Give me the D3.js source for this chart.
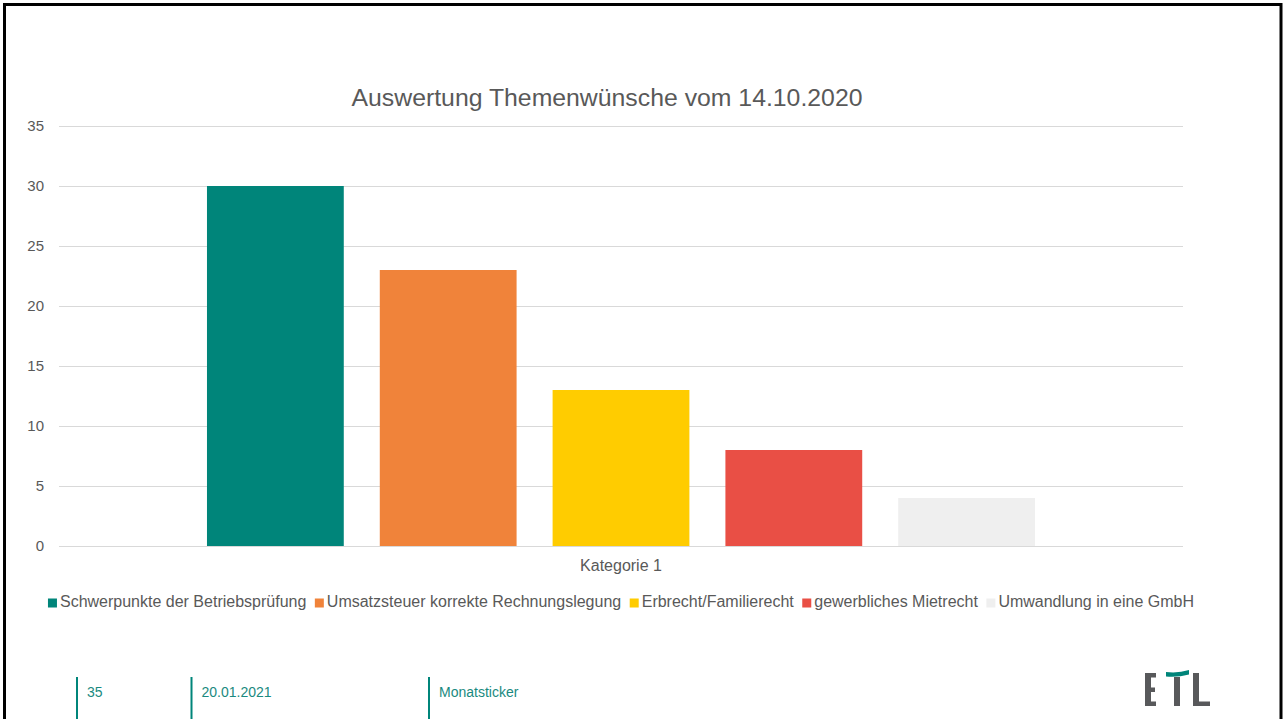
<!DOCTYPE html>
<html>
<head>
<meta charset="utf-8">
<script src="https://cdn.jsdelivr.net/npm/d3@7"></script>
<style>
  html, body { margin: 0; padding: 0; background: #fff; }
  svg { display: block; font-family: "Liberation Sans", Arial, sans-serif; }
</style>
</head>
<body>
<svg id="chart" width="1283" height="719"></svg>
<script>
const chartTitle = "Auswertung Themenwünsche vom 14.10.2020";
const categories = ["Kategorie 1"];
const seriesNames = [
  "Schwerpunkte der Betriebsprüfung",
  "Umsatzsteuer korrekte Rechnungslegung",
  "Erbrecht/Familierecht",
  "gewerbliches Mietrecht",
  "Umwandlung in eine GmbH"
];
const seriesValues = [30, 23, 13, 8, 4];
const seriesColors = ["#00857A", "#F0833A", "#FFCC00", "#E94F45", "#EFEFEF"];
const yTicks = [0, 5, 10, 15, 20, 25, 30, 35];
const footerItems = ["35", "20.01.2021", "Monatsticker"];

const svg = d3.select("#chart");
const textColor = "#595959";
const teal = "#00857A";

// frame
svg.append("rect")
  .attr("x", 4.5).attr("y", 4.5)
  .attr("width", 1276.5).attr("height", 800)
  .attr("fill", "none").attr("stroke", "#000").attr("stroke-width", 3);

const plotLeft = 59, plotRight = 1183, plotTop = 126, plotBottom = 546;

const y = d3.scaleLinear().domain([0, 35]).range([plotBottom, plotTop]);
const x0 = d3.scaleBand().domain(categories).range([plotLeft, plotRight])
  .paddingInner(0).paddingOuter(0.1787);
const x1 = d3.scaleBand().domain(seriesNames).range([0, x0.bandwidth()])
  .paddingInner(0.2084).paddingOuter(0);

// title
svg.append("text")
  .attr("x", 607).attr("y", 106)
  .attr("text-anchor", "middle")
  .attr("font-size", "24.8px")
  .attr("fill", textColor)
  .text(chartTitle);

// y axis with gridlines
const yAxis = svg.append("g")
  .attr("transform", `translate(${plotLeft},0)`)
  .call(d3.axisLeft(y).tickValues(yTicks).tickSize(-(plotRight - plotLeft)).tickPadding(15));
yAxis.select(".domain").remove();
yAxis.selectAll(".tick line").attr("stroke", "#D9D9D9").attr("stroke-width", 1);
yAxis.selectAll(".tick text")
  .attr("fill", textColor)
  .attr("font-size", "15px")
  .attr("font-family", "Liberation Sans, Arial, sans-serif");

// x axis
const xAxis = svg.append("g")
  .attr("transform", `translate(0,${plotBottom})`)
  .call(d3.axisBottom(x0).tickSize(0).tickPadding(14));
xAxis.select(".domain").remove();
xAxis.selectAll(".tick text")
  .attr("fill", textColor)
  .attr("font-size", "16px")
  .attr("font-family", "Liberation Sans, Arial, sans-serif");

// bars
const groups = svg.append("g").selectAll("g")
  .data(categories).join("g")
  .attr("transform", d => `translate(${x0(d)},0)`);
groups.selectAll("rect")
  .data(() => seriesNames.map((s, i) => ({ s, v: seriesValues[i], c: seriesColors[i] })))
  .join("rect")
  .attr("x", d => x1(d.s))
  .attr("width", x1.bandwidth())
  .attr("y", d => y(d.v))
  .attr("height", d => y(0) - y(d.v))
  .attr("fill", d => d.c);

// legend
const legend = svg.append("g");
const legendItems = legend.selectAll("g")
  .data(seriesNames.map((s, i) => ({ s, c: seriesColors[i] })))
  .join("g");
legendItems.append("rect")
  .attr("x", 0).attr("y", -8.5)
  .attr("width", 9).attr("height", 9)
  .attr("fill", d => d.c);
legendItems.append("text")
  .attr("x", 12).attr("y", 0)
  .attr("font-size", "16px")
  .attr("fill", textColor)
  .text(d => d.s);
let cursor = 0;
const gap = 8.5;
legendItems.each(function () {
  const w = 12 + d3.select(this).select("text").node().getComputedTextLength();
  d3.select(this).attr("transform", `translate(${cursor},0)`);
  cursor += w + gap;
});
const totalW = cursor - gap;
const centerX = (plotLeft + plotRight) / 2;
legend.attr("transform", `translate(${centerX - totalW / 2},607)`);

// footer
const footerX = [77, 191.5, 429];
const footer = svg.append("g");
footerItems.forEach((t, i) => {
  footer.append("rect")
    .attr("x", footerX[i] - 1).attr("y", 677)
    .attr("width", 2).attr("height", 50)
    .attr("fill", teal);
  footer.append("text")
    .attr("x", footerX[i] + 10).attr("y", 697)
    .attr("font-size", "14px")
    .attr("fill", "#1A8A80")
    .text(t);
});

// ETL logo
const logo = svg.append("g");
const grey = "#58595B";
// E
logo.append("rect").attr("x", 1145).attr("y", 673).attr("width", 6).attr("height", 33).attr("fill", grey);
logo.append("rect").attr("x", 1145).attr("y", 673).attr("width", 11).attr("height", 4.5).attr("fill", grey);
logo.append("rect").attr("x", 1145).attr("y", 687.5).attr("width", 10).attr("height", 4.5).attr("fill", grey);
logo.append("rect").attr("x", 1145).attr("y", 701.5).attr("width", 11).attr("height", 4.5).attr("fill", grey);
// T stem
logo.append("rect").attr("x", 1174).attr("y", 677).attr("width", 6).attr("height", 29).attr("fill", grey);
// teal swoosh
logo.append("path")
  .attr("d", "M1166,672 Q1178,673.5 1189,670 L1189,674.5 Q1178,677.5 1166,676.5 Z")
  .attr("fill", teal);
// L
logo.append("rect").attr("x", 1193).attr("y", 673).attr("width", 6).attr("height", 33).attr("fill", grey);
logo.append("rect").attr("x", 1193).attr("y", 701.5).attr("width", 17).attr("height", 4.5).attr("fill", grey);
</script>
</body>
</html>
